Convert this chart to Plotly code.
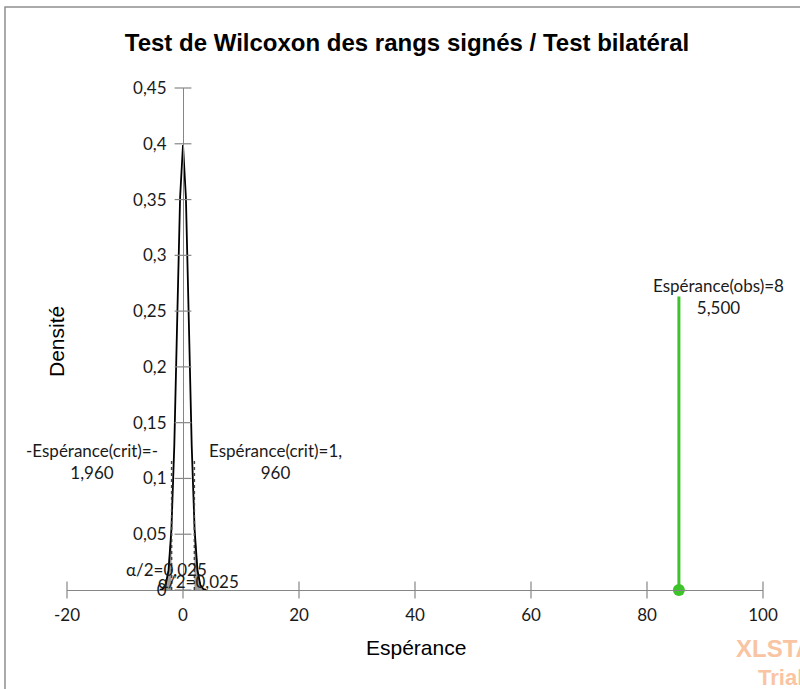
import plotly.graph_objects as go

# Standard normal density under H0 (statistic in standardized units)
dens_x = [-4.0, -3.5, -3.0, -2.5, -2.0, -1.5, -1.0, -0.5, 0.0,
          0.5, 1.0, 1.5, 2.0, 2.5, 3.0, 3.5, 4.0]
dens_y = [0.0001, 0.0009, 0.0044, 0.0175, 0.0540, 0.1295, 0.2420, 0.3521, 0.3989,
          0.3521, 0.2420, 0.1295, 0.0540, 0.0175, 0.0044, 0.0009, 0.0001]

# Rejection regions (two tails, alpha/2 each)
left_tail_x = [-4.0, -3.5, -3.0, -2.5, -2.0, -1.96]
left_tail_y = [0.0001, 0.0009, 0.0044, 0.0175, 0.0540, 0.0584]
right_tail_x = [1.96, 2.0, 2.5, 3.0, 3.5, 4.0]
right_tail_y = [0.0584, 0.0540, 0.0175, 0.0044, 0.0009, 0.0001]

# Critical values and observed value
crit_low = -1.96
crit_high = 1.96
crit_height = 0.117
obs_value = 85.5
obs_height = 0.263

x_ticks = [-20, 0, 20, 40, 60, 80, 100]
x_tick_text = ["-20", "0", "20", "40", "60", "80", "100"]
y_ticks = [0, 0.05, 0.1, 0.15, 0.2, 0.25, 0.3, 0.35, 0.4, 0.45]
y_tick_text = ["0", "0,05", "0,1", "0,15", "0,2", "0,25", "0,3", "0,35", "0,4", "0,45"]

W, H = 800, 689
AXIS_GREY = "#868686"
GREEN = "#3EC42B"
WATERMARK = "#F9C4A2"
LABEL_FONT = dict(family="Lato, Carlito, sans-serif", size=17, color="#1a1a1a")
ARIAL = "Liberation Sans, Arial, sans-serif"

fig = go.Figure()

# tail areas
for tx, ty in ((left_tail_x, left_tail_y), (right_tail_x, right_tail_y)):
    fig.add_trace(go.Scatter(x=tx, y=ty, mode="lines", fill="tozeroy",
                             fillcolor="rgba(128,128,128,0.75)",
                             line=dict(color="rgba(110,110,110,1)", width=0.8),
                             hoverinfo="skip", showlegend=False))

# density curve
fig.add_trace(go.Scatter(x=dens_x, y=dens_y, mode="lines",
                         line=dict(color="black", width=1.8),
                         showlegend=False))

# critical value markers (dotted)
for c in (crit_low, crit_high):
    fig.add_trace(go.Scatter(x=[c, c], y=[0, crit_height], mode="lines",
                             line=dict(color="#444444", width=1.5, dash="dot"),
                             showlegend=False))

# observed value
fig.add_trace(go.Scatter(x=[obs_value, obs_value], y=[0, obs_height], mode="lines",
                         line=dict(color=GREEN, width=3), showlegend=False))
fig.add_trace(go.Scatter(x=[obs_value], y=[0], mode="markers",
                         marker=dict(color=GREEN, size=12), cliponaxis=False,
                         showlegend=False))

# cross-style tick marks on both axes
fig.add_trace(go.Scatter(x=x_ticks, y=[0] * len(x_ticks), mode="markers",
                         marker=dict(symbol="line-ns", size=12,
                                     line=dict(color=AXIS_GREY, width=1.2)),
                         cliponaxis=False, hoverinfo="skip", showlegend=False))
fig.add_trace(go.Scatter(x=[0] * len(y_ticks), y=y_ticks, mode="markers",
                         marker=dict(symbol="line-ew", size=12,
                                     line=dict(color=AXIS_GREY, width=1.2)),
                         cliponaxis=False, hoverinfo="skip", showlegend=False))

annotations = [
    dict(x=-15.7, y=0.1156, text="-Espérance(crit)=-<br>1,960", showarrow=False,
         xref="x", yref="y", font=LABEL_FONT, align="center"),
    dict(x=16.0, y=0.1156, text="Espérance(crit)=1,<br>960", showarrow=False,
         xref="x", yref="y", font=LABEL_FONT, align="center"),
    dict(x=92.4, y=0.2635, text="Espérance(obs)=8<br>5,500", showarrow=False,
         xref="x", yref="y", font=LABEL_FONT, align="center"),
    dict(x=-2.76, y=0.018, text="α/2=0,025", showarrow=False,
         xref="x", yref="y", font=LABEL_FONT),
    dict(x=2.67, y=0.008, text="α/2=0,025", showarrow=False,
         xref="x", yref="y", font=LABEL_FONT),
    # axis titles
    dict(x=416 / W, y=1 - 647 / H, xref="paper", yref="paper", text="Espérance",
         xanchor="center", yanchor="middle", showarrow=False,
         font=dict(family=ARIAL, size=21, color="black")),
    dict(x=56 / W, y=1 - 342 / H, xref="paper", yref="paper", text="Densité",
         xanchor="center", yanchor="middle", textangle=-90, showarrow=False,
         font=dict(family=ARIAL, size=21, color="black")),
    # watermark
    dict(x=734 / W, y=1 - 648 / H, xref="paper", yref="paper", text="<b>XLSTAT</b>",
         xanchor="left", yanchor="middle", showarrow=False,
         font=dict(family=ARIAL, size=24, color=WATERMARK)),
    dict(x=756 / W, y=1 - 677 / H, xref="paper", yref="paper", text="<b>Trial</b>",
         xanchor="left", yanchor="middle", showarrow=False,
         font=dict(family=ARIAL, size=22, color=WATERMARK)),
]

fig.update_layout(
    width=W, height=H,
    margin=dict(l=0, r=0, t=0, b=0),
    paper_bgcolor="white", plot_bgcolor="white",
    title=dict(text="<b>Test de Wilcoxon des rangs signés / Test bilatéral</b>",
               x=407 / W, xanchor="center", y=1 - 43 / H, yanchor="middle",
               yref="container", xref="container",
               font=dict(family=ARIAL, size=24, color="black")),
    xaxis=dict(range=[-20, 100], domain=[67 / W, 763 / W],
               showline=True, linecolor=AXIS_GREY, linewidth=1.2,
               showgrid=False, zeroline=False, ticks="",
               tickvals=x_ticks, ticktext=x_tick_text,
               tickfont=LABEL_FONT, ticklabelstandoff=9, automargin=False),
    yaxis=dict(range=[0, 0.45], domain=[(H - 590) / H, (H - 88) / H],
               anchor="free", position=183 / W,
               showline=True, linecolor=AXIS_GREY, linewidth=1.2,
               showgrid=False, zeroline=False, ticks="",
               tickvals=y_ticks, ticktext=y_tick_text,
               tickfont=LABEL_FONT, ticklabelstandoff=13, automargin=False),
    annotations=annotations,
    shapes=[dict(type="rect", xref="paper", yref="paper",
                 x0=5 / W, y0=-0.1, x1=1.1, y1=1 - 7 / H,
                 line=dict(color="#8f8f8f", width=1.5), layer="below")],
    showlegend=False,
)

fig.write_html("out.html")
